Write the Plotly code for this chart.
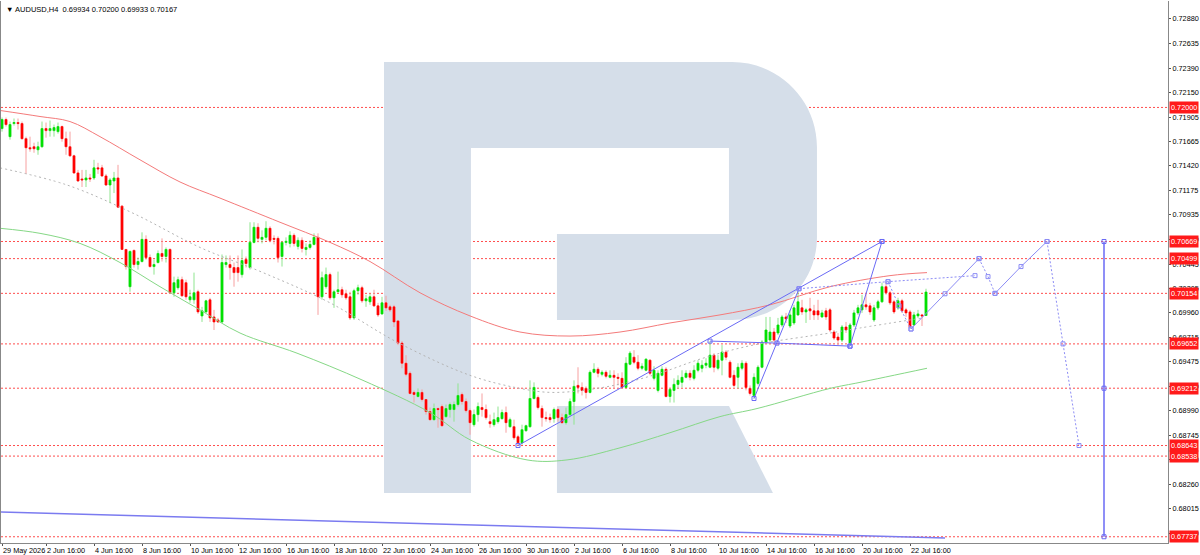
import plotly.graph_objects as go

# AUDUSD H4 - barras indexadas desde 29 May 2026 00:00 (6 barras por dia habil)
bars = list(range(5, 237))

opens = [
    0.7179, 0.7188, 0.7171, 0.7184, 0.7185, 0.7184, 0.7169, 0.7160, 0.7161, 0.7158,
    0.7161, 0.7179, 0.7177, 0.7177, 0.7176, 0.7181, 0.7169, 0.7161, 0.7152, 0.7135,
    0.7129, 0.7128, 0.7130, 0.7130, 0.7140, 0.7140, 0.7132, 0.7123, 0.7127, 0.7130,
    0.7102, 0.7059, 0.7022, 0.7058, 0.7044, 0.7047, 0.7069, 0.7051, 0.7042, 0.7046,
    0.7055, 0.7052, 0.7059, 0.7016, 0.7021, 0.7029, 0.7026, 0.7009, 0.7009, 0.7017,
    0.6993, 0.6997, 0.7009, 0.6992, 0.6989, 0.6987, 0.7044, 0.7044, 0.7041, 0.7041,
    0.7034, 0.7049, 0.7041, 0.7066, 0.7081, 0.7069, 0.7071, 0.7080, 0.7070, 0.7070,
    0.7052, 0.7066, 0.7065, 0.7073, 0.7062, 0.7068, 0.7059, 0.7061, 0.7064, 0.7071,
    0.7012, 0.7022, 0.7034, 0.7011, 0.7017, 0.7019, 0.7015, 0.7012, 0.6991, 0.7018,
    0.7021, 0.7008, 0.7007, 0.7012, 0.7003, 0.6995, 0.7006, 0.7002, 0.7002, 0.6988,
    0.6966, 0.6946, 0.6936, 0.6917, 0.6913, 0.6917, 0.6910, 0.6898, 0.6890, 0.6901,
    0.6903, 0.6893, 0.6900, 0.6900, 0.6905, 0.6915, 0.6908, 0.6899, 0.6885, 0.6895,
    0.6902, 0.6900, 0.6888, 0.6885, 0.6888, 0.6891, 0.6897, 0.6883, 0.6883, 0.6873,
    0.6867, 0.6879, 0.6883, 0.6911, 0.6912, 0.6901, 0.6892, 0.6892, 0.6891, 0.6900,
    0.6892, 0.6887, 0.6895, 0.6908, 0.6924, 0.6922, 0.6921, 0.6917, 0.6937, 0.6940,
    0.6935, 0.6937, 0.6932, 0.6934, 0.6932, 0.6931, 0.6922, 0.6945, 0.6952, 0.6947,
    0.6941, 0.6939, 0.6949, 0.6931, 0.6919, 0.6934, 0.6940, 0.6913, 0.6919, 0.6925,
    0.6927, 0.6932, 0.6936, 0.6931, 0.6939, 0.6941, 0.6944, 0.6942, 0.6954, 0.6941,
    0.6949, 0.6957, 0.6947, 0.6934, 0.6932, 0.6941, 0.6946, 0.6921, 0.6914, 0.6926,
    0.6942, 0.6967, 0.6969, 0.6977, 0.6976, 0.6984, 0.6992, 0.6983, 0.6986, 0.6994,
    0.7001, 0.6997, 0.7000, 0.6998, 0.6998, 0.6992, 0.6998, 0.6999, 0.6977, 0.6972,
    0.6969, 0.6982, 0.6966, 0.6984, 0.6996, 0.6999, 0.7004, 0.7003, 0.6989, 0.7001,
    0.7007, 0.7022, 0.7016, 0.7007, 0.7001, 0.7008, 0.6999, 0.6997, 0.6984, 0.6993,
    0.6994, 0.69934,
]
highs = [
    0.7190, 0.7190, 0.7186, 0.7189, 0.7189, 0.7186, 0.7171, 0.7171, 0.7165, 0.7166,
    0.7186, 0.7185, 0.7187, 0.7183, 0.7185, 0.7182, 0.7176, 0.7176, 0.7153, 0.7138,
    0.7138, 0.7138, 0.7134, 0.7148, 0.7145, 0.7143, 0.7134, 0.7130, 0.7136, 0.7143,
    0.7103, 0.7059, 0.7058, 0.7059, 0.7051, 0.7076, 0.7073, 0.7054, 0.7049, 0.7058,
    0.7070, 0.7061, 0.7060, 0.7032, 0.7032, 0.7032, 0.7029, 0.7019, 0.7036, 0.7019,
    0.7002, 0.7009, 0.7011, 0.6999, 0.6991, 0.7054, 0.7053, 0.7053, 0.7046, 0.7053,
    0.7059, 0.7052, 0.7086, 0.7086, 0.7085, 0.7078, 0.7087, 0.7082, 0.7073, 0.7072,
    0.7067, 0.7071, 0.7077, 0.7075, 0.7071, 0.7071, 0.7065, 0.7068, 0.7075, 0.7075,
    0.7037, 0.7041, 0.7036, 0.7019, 0.7037, 0.7022, 0.7019, 0.7017, 0.7020, 0.7024,
    0.7023, 0.7014, 0.7015, 0.7019, 0.7006, 0.7012, 0.7013, 0.7004, 0.7004, 0.6989,
    0.6968, 0.6954, 0.6938, 0.6919, 0.6921, 0.6920, 0.6910, 0.6902, 0.6906, 0.6902,
    0.6905, 0.6905, 0.6907, 0.6908, 0.6926, 0.6917, 0.6911, 0.6901, 0.6900, 0.6907,
    0.6916, 0.6905, 0.6895, 0.6897, 0.6903, 0.6900, 0.6903, 0.6892, 0.6890, 0.6875,
    0.6885, 0.6885, 0.6929, 0.6927, 0.6914, 0.6904, 0.6898, 0.6896, 0.6902, 0.6902,
    0.6896, 0.6902, 0.6911, 0.6929, 0.6942, 0.6927, 0.6923, 0.6939, 0.6946, 0.6942,
    0.6939, 0.6939, 0.6939, 0.6939, 0.6936, 0.6937, 0.6952, 0.6958, 0.6959, 0.6954,
    0.6946, 0.6951, 0.6950, 0.6943, 0.6939, 0.6943, 0.6942, 0.6921, 0.6931, 0.6934,
    0.6939, 0.6939, 0.6939, 0.6944, 0.6949, 0.6949, 0.6951, 0.6968, 0.6956, 0.6954,
    0.6964, 0.6959, 0.6949, 0.6939, 0.6946, 0.6949, 0.6948, 0.6924, 0.6936, 0.6944,
    0.6969, 0.6992, 0.6992, 0.6981, 0.6991, 0.6994, 0.6996, 0.6999, 0.7004, 0.7020,
    0.7009, 0.7001, 0.7011, 0.7004, 0.7009, 0.6999, 0.7001, 0.7001, 0.6979, 0.6976,
    0.6984, 0.6987, 0.6986, 0.6999, 0.7004, 0.7014, 0.7016, 0.7006, 0.7004, 0.7009,
    0.7026, 0.7027, 0.7018, 0.7009, 0.7011, 0.7010, 0.7001, 0.6999, 0.6997, 0.6999,
    0.6995, 0.70200,
]
lows = [
    0.7176, 0.7181, 0.7168, 0.7182, 0.7178, 0.7168, 0.7134, 0.7156, 0.7155, 0.7153,
    0.7160, 0.7170, 0.7171, 0.7171, 0.7174, 0.7166, 0.7153, 0.7151, 0.7134, 0.7126,
    0.7121, 0.7121, 0.7126, 0.7128, 0.7134, 0.7131, 0.7122, 0.7105, 0.7115, 0.7101,
    0.7059, 0.7039, 0.7017, 0.7041, 0.7039, 0.7046, 0.7049, 0.7041, 0.7034, 0.7045,
    0.7047, 0.7046, 0.7015, 0.7012, 0.7019, 0.7012, 0.7009, 0.7006, 0.7005, 0.6995,
    0.6987, 0.6996, 0.6987, 0.6979, 0.6986, 0.6986, 0.7041, 0.7029, 0.7022, 0.7027,
    0.7031, 0.7041, 0.7039, 0.7065, 0.7066, 0.7065, 0.7068, 0.7066, 0.7064, 0.7046,
    0.7042, 0.7063, 0.7061, 0.7062, 0.7059, 0.7056, 0.7053, 0.7059, 0.7063, 0.6994,
    0.7009, 0.7020, 0.7009, 0.7001, 0.7016, 0.7011, 0.7009, 0.6989, 0.6989, 0.7014,
    0.7006, 0.7002, 0.7004, 0.7002, 0.6992, 0.6994, 0.6998, 0.6997, 0.6982, 0.6964,
    0.6941, 0.6933, 0.6915, 0.6907, 0.6912, 0.6908, 0.6895, 0.6889, 0.6889, 0.6882,
    0.6883, 0.6892, 0.6892, 0.6888, 0.6903, 0.6905, 0.6897, 0.6875, 0.6883, 0.6888,
    0.6893, 0.6890, 0.6882, 0.6883, 0.6886, 0.6890, 0.6877, 0.6882, 0.6870, 0.68643,
    0.6865, 0.6878, 0.6882, 0.6910, 0.6900, 0.6883, 0.6888, 0.6887, 0.6887, 0.6888,
    0.6886, 0.6885, 0.6893, 0.6885, 0.6916, 0.6914, 0.6911, 0.6916, 0.6936, 0.6932,
    0.6933, 0.6931, 0.6931, 0.6921, 0.6924, 0.6921, 0.6921, 0.6944, 0.6945, 0.6939,
    0.6939, 0.6938, 0.6934, 0.6929, 0.6917, 0.6933, 0.6912, 0.6907, 0.6907, 0.6921,
    0.6922, 0.6931, 0.6929, 0.6929, 0.6937, 0.6937, 0.6941, 0.6941, 0.6937, 0.6939,
    0.6934, 0.6949, 0.6931, 0.6922, 0.6921, 0.6939, 0.6919, 0.6914, 0.6911, 0.6924,
    0.6941, 0.6966, 0.6967, 0.6967, 0.6974, 0.6982, 0.6986, 0.6981, 0.6984, 0.6993,
    0.6994, 0.6986, 0.6989, 0.6989, 0.6989, 0.6991, 0.6989, 0.6977, 0.6969, 0.6964,
    0.6967, 0.6976, 0.6963, 0.6982, 0.6994, 0.6996, 0.6999, 0.6994, 0.6987, 0.6999,
    0.7006, 0.7014, 0.7004, 0.6995, 0.6999, 0.6996, 0.6992, 0.6980, 0.6983, 0.6991,
    0.6983, 0.69933,
]
closes = [
    0.7188, 0.7183, 0.7183, 0.7185, 0.7184, 0.7169, 0.7160, 0.7159, 0.7159, 0.7161,
    0.7179, 0.7177, 0.7179, 0.7180, 0.7181, 0.7169, 0.7161, 0.7152, 0.7135, 0.7127,
    0.7128, 0.7130, 0.7129, 0.7140, 0.7139, 0.7132, 0.7123, 0.7128, 0.7130, 0.7101,
    0.7059, 0.7042, 0.7057, 0.7044, 0.7047, 0.7069, 0.7051, 0.7042, 0.7044, 0.7055,
    0.7052, 0.7059, 0.7016, 0.7026, 0.7029, 0.7013, 0.7012, 0.7012, 0.7016, 0.6997,
    0.6998, 0.7008, 0.6991, 0.6987, 0.6987, 0.7046, 0.7046, 0.7041, 0.7036, 0.7036,
    0.7048, 0.7045, 0.7066, 0.7081, 0.7070, 0.7071, 0.7080, 0.7068, 0.7069, 0.7051,
    0.7066, 0.7067, 0.7073, 0.7065, 0.7068, 0.7060, 0.7061, 0.7064, 0.7071, 0.7012,
    0.7031, 0.7034, 0.7011, 0.7017, 0.7019, 0.7014, 0.7011, 0.6991, 0.7018, 0.7021,
    0.7008, 0.7010, 0.7012, 0.7003, 0.6994, 0.7006, 0.7001, 0.6999, 0.6987, 0.6966,
    0.6946, 0.6935, 0.6916, 0.6915, 0.6917, 0.6910, 0.6898, 0.6890, 0.6901, 0.6900,
    0.6884, 0.6901, 0.6905, 0.6905, 0.6914, 0.6908, 0.6899, 0.6887, 0.6895, 0.6903,
    0.6900, 0.6892, 0.6886, 0.6890, 0.6892, 0.6897, 0.6887, 0.6890, 0.6872, 0.6867,
    0.6880, 0.6884, 0.6911, 0.6922, 0.6902, 0.6892, 0.6891, 0.6890, 0.6900, 0.6892,
    0.6887, 0.6895, 0.6908, 0.6923, 0.6922, 0.6919, 0.6917, 0.6937, 0.6940, 0.6936,
    0.6937, 0.6933, 0.6934, 0.6932, 0.6931, 0.6922, 0.6946, 0.6956, 0.6947, 0.6941,
    0.6943, 0.6950, 0.6936, 0.6939, 0.6936, 0.6940, 0.6913, 0.6920, 0.6925, 0.6929,
    0.6932, 0.6936, 0.6932, 0.6939, 0.6946, 0.6944, 0.6946, 0.6954, 0.6942, 0.6949,
    0.6957, 0.6952, 0.6932, 0.6924, 0.6942, 0.6946, 0.6922, 0.6916, 0.6932, 0.6942,
    0.6967, 0.6979, 0.6977, 0.6969, 0.6984, 0.6992, 0.6990, 0.6994, 0.7001, 0.7007,
    0.6997, 0.6999, 0.6998, 0.6994, 0.6994, 0.6996, 0.6992, 0.6979, 0.6971, 0.6969,
    0.6982, 0.6979, 0.6984, 0.6996, 0.7001, 0.7004, 0.7002, 0.6997, 0.7001, 0.7007,
    0.7022, 0.7016, 0.7006, 0.6997, 0.7008, 0.6998, 0.6996, 0.6982, 0.6994, 0.6995,
    0.6993, 0.70167,
]

# Medias moviles
ma_red_x = [4.5, 14.5, 22, 29.5, 39.5, 49.5, 59.5, 74.5, 87, 97, 109.5, 122, 134.5,
            147, 159.5, 172, 184.5, 197, 212, 227, 236.25]
ma_red_y = [0.7197, 0.7191, 0.7186, 0.7171, 0.7148, 0.7126, 0.7110, 0.7086, 0.7066, 0.7047,
            0.7016, 0.6993, 0.6977, 0.6973, 0.6977, 0.6986, 0.6994, 0.7004, 0.7022, 0.7033, 0.7036]
ma_green_x = [4.5, 14.5, 24.5, 34.5, 44.5, 54.5, 64.5, 78.75, 95.25, 112, 122, 136.25,
              146.25, 159.5, 172, 184.5, 193.75, 212, 219.5, 236.25]
ma_green_y = [0.7080, 0.7075, 0.7065, 0.7046, 0.7022, 0.6999, 0.6976, 0.6956, 0.6929, 0.6897,
              0.6870, 0.6850, 0.6850, 0.6862, 0.6877, 0.6893, 0.6901, 0.6921, 0.6927, 0.6941]
ma_gray_x = [4.5, 21.25, 37.75, 54.5, 70.25, 87, 103.75, 122, 134.5, 142.75, 155.25,
             167.75, 180.25, 192.75, 212, 219.5, 235.25]
ma_gray_y = [0.7140, 0.7123, 0.7095, 0.7061, 0.7036, 0.7006, 0.6967, 0.6934, 0.6921, 0.6917,
             0.6922, 0.6934, 0.6951, 0.6964, 0.6976, 0.6981, 0.6991]

# Niveles horizontales
levels = [0.72000, 0.70669, 0.70499, 0.70154, 0.69652, 0.69212, 0.68643, 0.68538, 0.67737]

# Lineas de tendencia / pronostico
trend_x = [134, 225]
trend_y = [0.68643, 0.70669]
flat_x = [182, 198.75, 217]
flat_y = [0.6968, 0.6966, 0.6963]
leg1_x = [193, 204.25]
leg1_y = [0.6911, 0.7020]
leg2_x = [217, 225]
leg2_y = [0.6963, 0.70669]
dot_top_x = [204.25, 226.5, 248.25]
dot_top_y = [0.7020, 0.7027, 0.7033]
dot_dn_x = [226.5, 229.25, 232.25]
dot_dn_y = [0.7027, 0.7003, 0.6980]
fc1_x = [232.25, 240.75, 249.25]
fc1_y = [0.6980, 0.7015, 0.70499]
fc2_x = [249.25, 251.5, 253.25]
fc2_y = [0.70499, 0.7032, 0.70154]
fc3_x = [253.25, 259.75, 266.25]
fc3_y = [0.70154, 0.7042, 0.70669]
fc4_x = [266.25, 270.25, 274.25]
fc4_y = [0.70669, 0.69652, 0.68643]
target_x = [280.5, 280.5, 280.5]
target_y = [0.70669, 0.69212, 0.67737]
base_x = [4.5, 240.75]
base_y = [0.67983, 0.67725]

y_ticks = [0.72880, 0.72635, 0.72390, 0.72150, 0.71905, 0.71665, 0.71420, 0.71175, 0.70935,
           0.70690, 0.70445, 0.70205, 0.69960, 0.69715, 0.69475, 0.69230, 0.68990, 0.68745,
           0.68500, 0.68260, 0.68015, 0.67770]
x_ticks = [5, 16, 28, 40, 52, 64, 76, 88, 100, 112, 124, 136, 148, 160, 172, 184, 196, 208, 220, 232]
x_labels = ["29 May 2026", "2 Jun 16:00", "4 Jun 16:00", "8 Jun 16:00", "10 Jun 16:00",
            "12 Jun 16:00", "16 Jun 16:00", "18 Jun 16:00", "22 Jun 16:00", "24 Jun 16:00",
            "26 Jun 16:00", "30 Jun 16:00", "2 Jul 16:00", "6 Jul 16:00", "8 Jul 16:00",
            "10 Jul 16:00", "14 Jul 16:00", "16 Jul 16:00", "20 Jul 16:00", "22 Jul 16:00"]

AZUL = "#6a6af5"
AZUL_CLARO = "#8c8cf5"
FUENTE = "Liberation Sans"

fig = go.Figure()

# Medias moviles
fig.add_trace(go.Scatter(x=ma_red_x, y=ma_red_y, mode="lines", line=dict(color="#f47a7a", width=1, shape="spline")))
fig.add_trace(go.Scatter(x=ma_green_x, y=ma_green_y, mode="lines", line=dict(color="#86d886", width=1, shape="spline")))
fig.add_trace(go.Scatter(x=ma_gray_x, y=ma_gray_y, mode="lines",
                         line=dict(color="#b4b4b4", width=1, dash="2px,3px", shape="spline")))

# Velas: mechas (palidas) + cuerpos (intensos)
fig.add_trace(go.Candlestick(
    x=bars, open=opens, high=highs, low=lows, close=closes,
    increasing=dict(line=dict(color="#8fe58f", width=1), fillcolor="#8fe58f"),
    decreasing=dict(line=dict(color="#f7a0a0", width=1), fillcolor="#f7a0a0"),
    whiskerwidth=0,
))
body_hi = [max(o, c) for o, c in zip(opens, closes)]
body_lo = [min(o, c) for o, c in zip(opens, closes)]
fig.add_trace(go.Candlestick(
    x=bars, open=opens, high=body_hi, low=body_lo, close=closes,
    increasing=dict(line=dict(color="#00e000", width=0.5), fillcolor="#00e000"),
    decreasing=dict(line=dict(color="#ff0000", width=0.5), fillcolor="#ff0000"),
    whiskerwidth=0,
))


def linea(xs, ys, dash="solid", color=AZUL, width=1, markers=True):
    fig.add_trace(go.Scatter(
        x=xs, y=ys, mode="lines+markers" if markers else "lines",
        line=dict(color=color, width=width, dash=dash),
        marker=dict(symbol="square-open", size=4, color=color, line=dict(width=1, color=color)),
    ))


linea(base_x, base_y, color="#7b7bf0", width=1.6, markers=False)
linea(trend_x, trend_y)
linea(flat_x, flat_y)
linea(leg1_x, leg1_y)
linea(leg2_x, leg2_y)
linea(dot_top_x, dot_top_y, dash="2px,2px", color=AZUL_CLARO)
linea(dot_dn_x, dot_dn_y, dash="2px,2px", color=AZUL_CLARO)
linea(fc1_x, fc1_y, color=AZUL_CLARO)
linea(fc2_x, fc2_y, dash="2px,2px", color=AZUL_CLARO)
linea(fc3_x, fc3_y, color=AZUL_CLARO)
linea(fc4_x, fc4_y, dash="2px,2px", color=AZUL_CLARO)
linea(target_x, target_y, width=1.5)

# Niveles rojos punteados + etiquetas
for lvl in levels:
    fig.add_hline(y=lvl, line=dict(color="#ff4d4d", width=1, dash="2px,2px"), layer="below")
    fig.add_annotation(x=1, xref="paper", y=lvl, yref="y", xanchor="left", xshift=1,
                       text=f"{lvl:.5f}", showarrow=False, bgcolor="#ff1a1a", borderpad=1,
                       font=dict(color="white", size=7.3, family=FUENTE))

# Marca de agua "R" (coordenadas en pixeles del area de trazado)
PW, PH = 1167, 542


def pp(x, y):
    return f"{(x - 1) / PW:.4f},{(543 - y) / PH:.4f}"


r_cuerpo = (f"M {pp(384, 62)} L {pp(732, 62)} C {pp(779, 62)} {pp(817, 100)} {pp(817, 147)} "
            f"L {pp(817, 237)} C {pp(817, 284)} {pp(779, 320)} {pp(732, 320)} "
            f"L {pp(557, 320)} L {pp(557, 234)} L {pp(729, 234)} L {pp(729, 148)} "
            f"L {pp(471, 148)} L {pp(471, 493)} L {pp(384, 493)} Z")
r_pierna = f"M {pp(557, 406)} L {pp(729, 406)} L {pp(773, 493)} L {pp(557, 493)} Z"
for p in (r_cuerpo, r_pierna):
    fig.add_shape(type="path", path=p, xref="paper", yref="paper",
                  fillcolor="#d5dee9", line=dict(width=0), layer="below")

# Encabezado
fig.add_annotation(
    x=0, y=1, xref="paper", yref="paper", xanchor="left", yanchor="top", xshift=3, yshift=-2,
    text=f"▼ AUDUSD,H4  {opens[-1]:.5f} {highs[-1]:.5f} {lows[-1]:.5f} {closes[-1]:.5f}",
    showarrow=False, font=dict(size=7.5, color="black", family=FUENTE),
)

fig.update_layout(
    width=1200, height=555,
    margin=dict(l=1, r=32, t=1, b=12, autoexpand=False),
    paper_bgcolor="white", plot_bgcolor="white",
    showlegend=False, hovermode=False,
    font=dict(family=FUENTE, size=7.3, color="black"),
    xaxis=dict(range=[4.75, 296.5], showgrid=False, zeroline=False, rangeslider=dict(visible=False),
               tickmode="array", tickvals=x_ticks, ticktext=x_labels, ticks="outside", ticklen=2,
               tickcolor="#555", ticklabelposition="outside right", showline=True, linecolor="#888",
               linewidth=1, tickangle=0, automargin=False, tickfont=dict(size=7.3)),
    yaxis=dict(range=[0.67675, 0.73057], side="right", showgrid=False, zeroline=False,
               tickmode="array", tickvals=y_ticks, ticktext=[f"{v:.5f}" for v in y_ticks],
               ticks="outside", ticklen=2, tickcolor="#555", showline=True, mirror=True,
               linecolor="#888", linewidth=1, automargin=False, tickfont=dict(size=7.3)),
)

# la pagina se fotografia a 1200x555: quitar el margen por defecto del body
fig.write_html("out.html", config={"displayModeBar": False},
               post_script="document.body.style.margin='0';")
